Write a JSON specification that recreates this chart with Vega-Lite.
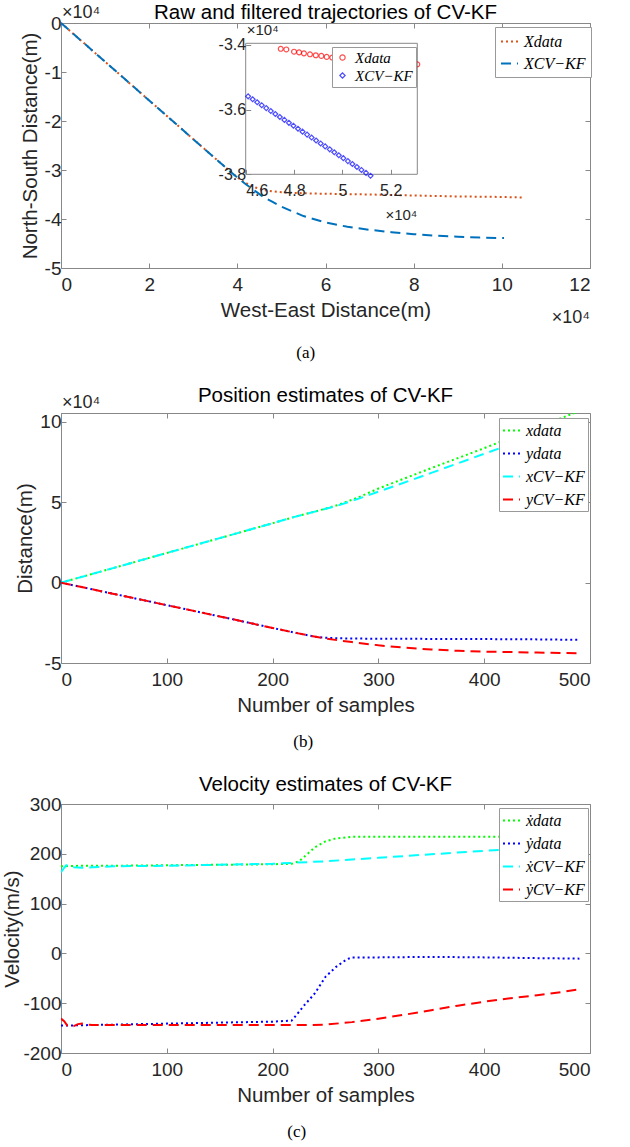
{
 "$schema": "https://vega.github.io/schema/vega-lite/v6.json",
 "padding": {"left": 2, "top": 2, "right": 5, "bottom": 2},
 "config": {
  "font": "Liberation Sans",
  "view": {"stroke": "#888", "strokeWidth": 1},
  "axis": {"grid": false, "domain": false, "labelFont": "Liberation Sans", "labelFontSize": 19, "labelColor": "#262626", "titleFont": "Liberation Sans", "titleFontSize": 20.5, "titleFontWeight": "normal", "titleColor": "#262626", "tickColor": "#888", "tickSize": -5, "titlePadding": 4},
  "axisX": {"labelPadding": 12, "titlePadding": 6},
  "axisY": {"labelPadding": 5},
  "title": {"font": "Liberation Sans", "fontSize": 20.5, "fontWeight": "normal", "color": "#000", "offset": -12},
  "legend": {"labelFont": "Liberation Serif", "labelFontStyle": "italic", "labelFontSize": 16, "labelColor": "#000", "strokeColor": "#999", "fillColor": "white", "zindex": 1, "labelOffset": 5}
 },
 "datasets": {
  "traj": [
   {"s": "Xdata", "x": 0, "y": 0}, {"s": "Xdata", "x": 5000, "y": -3950}, {"s": "Xdata", "x": 10000, "y": -7900}, {"s": "Xdata", "x": 15000, "y": -11850}, {"s": "Xdata", "x": 20000, "y": -15800}, {"s": "Xdata", "x": 25000, "y": -19750}, {"s": "Xdata", "x": 30000, "y": -23700}, {"s": "Xdata", "x": 35000, "y": -27650}, {"s": "Xdata", "x": 38000, "y": -30000}, {"s": "Xdata", "x": 40000, "y": -31500}, {"s": "Xdata", "x": 42000, "y": -32700}, {"s": "Xdata", "x": 44000, "y": -33550}, {"s": "Xdata", "x": 46000, "y": -34100}, {"s": "Xdata", "x": 48000, "y": -34350}, {"s": "Xdata", "x": 50000, "y": -34550}, {"s": "Xdata", "x": 55000, "y": -34750}, {"s": "Xdata", "x": 60000, "y": -34850}, {"s": "Xdata", "x": 70000, "y": -35000}, {"s": "Xdata", "x": 80000, "y": -35200}, {"s": "Xdata", "x": 90000, "y": -35400}, {"s": "Xdata", "x": 100000, "y": -35500}, {"s": "Xdata", "x": 104500, "y": -35600},
   {"s": "XCV−KF", "x": 0, "y": 0}, {"s": "XCV−KF", "x": 5000, "y": -3950}, {"s": "XCV−KF", "x": 10000, "y": -7900}, {"s": "XCV−KF", "x": 15000, "y": -11850}, {"s": "XCV−KF", "x": 20000, "y": -15800}, {"s": "XCV−KF", "x": 25000, "y": -19750}, {"s": "XCV−KF", "x": 30000, "y": -23700}, {"s": "XCV−KF", "x": 35000, "y": -27650}, {"s": "XCV−KF", "x": 38000, "y": -30000}, {"s": "XCV−KF", "x": 40000, "y": -31550}, {"s": "XCV−KF", "x": 42000, "y": -32950}, {"s": "XCV−KF", "x": 44000, "y": -34250}, {"s": "XCV−KF", "x": 46000, "y": -35560}, {"s": "XCV−KF", "x": 48000, "y": -36510}, {"s": "XCV−KF", "x": 50000, "y": -37480}, {"s": "XCV−KF", "x": 55000, "y": -39400}, {"s": "XCV−KF", "x": 60000, "y": -40700}, {"s": "XCV−KF", "x": 65000, "y": -41600}, {"s": "XCV−KF", "x": 70000, "y": -42200}, {"s": "XCV−KF", "x": 75000, "y": -42700}, {"s": "XCV−KF", "x": 80000, "y": -43100}, {"s": "XCV−KF", "x": 85000, "y": -43400}, {"s": "XCV−KF", "x": 90000, "y": -43600}, {"s": "XCV−KF", "x": 95000, "y": -43800}, {"s": "XCV−KF", "x": 100500, "y": -43900}
  ],
  "ins": [
   {"s": "Xdata", "x": 47450, "y": -34120}, {"s": "Xdata", "x": 47680, "y": -34140}, {"s": "Xdata", "x": 48000, "y": -34210}, {"s": "Xdata", "x": 48210, "y": -34230}, {"s": "Xdata", "x": 48410, "y": -34260}, {"s": "Xdata", "x": 48660, "y": -34290}, {"s": "Xdata", "x": 48900, "y": -34320}, {"s": "Xdata", "x": 49130, "y": -34340}, {"s": "Xdata", "x": 49350, "y": -34370}, {"s": "Xdata", "x": 49580, "y": -34390}, {"s": "Xdata", "x": 49820, "y": -34400}, {"s": "Xdata", "x": 50050, "y": -34420}, {"s": "Xdata", "x": 50290, "y": -34430}, {"s": "Xdata", "x": 50530, "y": -34450}, {"s": "Xdata", "x": 50760, "y": -34460}, {"s": "Xdata", "x": 51000, "y": -34480}, {"s": "Xdata", "x": 51240, "y": -34490}, {"s": "Xdata", "x": 51470, "y": -34510}, {"s": "Xdata", "x": 51710, "y": -34520}, {"s": "Xdata", "x": 51950, "y": -34540}, {"s": "Xdata", "x": 52180, "y": -34550}, {"s": "Xdata", "x": 52420, "y": -34560}, {"s": "Xdata", "x": 52660, "y": -34580}, {"s": "Xdata", "x": 52890, "y": -34590}, {"s": "Xdata", "x": 53100, "y": -34600},
   {"s": "XCV−KF", "x": 46100, "y": -35590}, {"s": "XCV−KF", "x": 46288, "y": -35681}, {"s": "XCV−KF", "x": 46475, "y": -35772}, {"s": "XCV−KF", "x": 46663, "y": -35863}, {"s": "XCV−KF", "x": 46850, "y": -35954}, {"s": "XCV−KF", "x": 47038, "y": -36045}, {"s": "XCV−KF", "x": 47226, "y": -36136}, {"s": "XCV−KF", "x": 47413, "y": -36227}, {"s": "XCV−KF", "x": 47601, "y": -36318}, {"s": "XCV−KF", "x": 47788, "y": -36409}, {"s": "XCV−KF", "x": 47976, "y": -36500}, {"s": "XCV−KF", "x": 48164, "y": -36591}, {"s": "XCV−KF", "x": 48351, "y": -36682}, {"s": "XCV−KF", "x": 48539, "y": -36773}, {"s": "XCV−KF", "x": 48726, "y": -36864}, {"s": "XCV−KF", "x": 48914, "y": -36955}, {"s": "XCV−KF", "x": 49102, "y": -37046}, {"s": "XCV−KF", "x": 49289, "y": -37137}, {"s": "XCV−KF", "x": 49477, "y": -37228}, {"s": "XCV−KF", "x": 49664, "y": -37319}, {"s": "XCV−KF", "x": 49852, "y": -37410}, {"s": "XCV−KF", "x": 50040, "y": -37501}, {"s": "XCV−KF", "x": 50227, "y": -37592}, {"s": "XCV−KF", "x": 50415, "y": -37683}, {"s": "XCV−KF", "x": 50602, "y": -37774}, {"s": "XCV−KF", "x": 50790, "y": -37865}, {"s": "XCV−KF", "x": 50978, "y": -37956}, {"s": "XCV−KF", "x": 51165, "y": -38047}
  ],
  "pos": [
   {"s": "xdata", "k": 0, "v": 0}, {"s": "xdata", "k": 50, "v": 9200}, {"s": "xdata", "k": 100, "v": 18500}, {"s": "xdata", "k": 150, "v": 27700}, {"s": "xdata", "k": 200, "v": 37000}, {"s": "xdata", "k": 220, "v": 40800}, {"s": "xdata", "k": 240, "v": 44200}, {"s": "xdata", "k": 260, "v": 48000}, {"s": "xdata", "k": 280, "v": 52800}, {"s": "xdata", "k": 300, "v": 58600}, {"s": "xdata", "k": 350, "v": 71300}, {"s": "xdata", "k": 400, "v": 83700}, {"s": "xdata", "k": 450, "v": 96700}, {"s": "xdata", "k": 490, "v": 106800},
   {"s": "ydata", "k": 0, "v": 0}, {"s": "ydata", "k": 50, "v": -7000}, {"s": "ydata", "k": 100, "v": -14000}, {"s": "ydata", "k": 150, "v": -21000}, {"s": "ydata", "k": 200, "v": -28200}, {"s": "ydata", "k": 220, "v": -31000}, {"s": "ydata", "k": 240, "v": -33600}, {"s": "ydata", "k": 250, "v": -34300}, {"s": "ydata", "k": 260, "v": -34600}, {"s": "ydata", "k": 280, "v": -34800}, {"s": "ydata", "k": 300, "v": -34900}, {"s": "ydata", "k": 350, "v": -35000}, {"s": "ydata", "k": 400, "v": -35100}, {"s": "ydata", "k": 450, "v": -35300}, {"s": "ydata", "k": 490, "v": -35600},
   {"s": "xCV−KF", "k": 0, "v": 0}, {"s": "xCV−KF", "k": 50, "v": 9200}, {"s": "xCV−KF", "k": 100, "v": 18500}, {"s": "xCV−KF", "k": 150, "v": 27700}, {"s": "xCV−KF", "k": 200, "v": 37000}, {"s": "xCV−KF", "k": 220, "v": 40800}, {"s": "xCV−KF", "k": 240, "v": 44200}, {"s": "xCV−KF", "k": 260, "v": 47600}, {"s": "xCV−KF", "k": 280, "v": 52000}, {"s": "xCV−KF", "k": 300, "v": 56600}, {"s": "xCV−KF", "k": 350, "v": 68300}, {"s": "xCV−KF", "k": 400, "v": 80200}, {"s": "xCV−KF", "k": 450, "v": 92000}, {"s": "xCV−KF", "k": 490, "v": 100500},
   {"s": "yCV−KF", "k": 0, "v": 0}, {"s": "yCV−KF", "k": 50, "v": -7000}, {"s": "yCV−KF", "k": 100, "v": -14000}, {"s": "yCV−KF", "k": 150, "v": -21000}, {"s": "yCV−KF", "k": 200, "v": -28200}, {"s": "yCV−KF", "k": 220, "v": -31000}, {"s": "yCV−KF", "k": 235, "v": -33000}, {"s": "yCV−KF", "k": 250, "v": -34800}, {"s": "yCV−KF", "k": 275, "v": -37000}, {"s": "yCV−KF", "k": 300, "v": -39000}, {"s": "yCV−KF", "k": 325, "v": -40500}, {"s": "yCV−KF", "k": 350, "v": -41600}, {"s": "yCV−KF", "k": 375, "v": -42400}, {"s": "yCV−KF", "k": 400, "v": -42900}, {"s": "yCV−KF", "k": 450, "v": -43500}, {"s": "yCV−KF", "k": 490, "v": -43900}
  ],
  "vel": [
   {"s": "ẋdata", "k": 0, "v": 175}, {"s": "ẋdata", "k": 20, "v": 176}, {"s": "ẋdata", "k": 50, "v": 176}, {"s": "ẋdata", "k": 100, "v": 177}, {"s": "ẋdata", "k": 150, "v": 178}, {"s": "ẋdata", "k": 200, "v": 179}, {"s": "ẋdata", "k": 218, "v": 180}, {"s": "ẋdata", "k": 225, "v": 185}, {"s": "ẋdata", "k": 232, "v": 198}, {"s": "ẋdata", "k": 240, "v": 213}, {"s": "ẋdata", "k": 250, "v": 225}, {"s": "ẋdata", "k": 260, "v": 231}, {"s": "ẋdata", "k": 275, "v": 234}, {"s": "ẋdata", "k": 300, "v": 234}, {"s": "ẋdata", "k": 350, "v": 234}, {"s": "ẋdata", "k": 400, "v": 234}, {"s": "ẋdata", "k": 450, "v": 234}, {"s": "ẋdata", "k": 490, "v": 234},
   {"s": "ẏdata", "k": 0, "v": -145}, {"s": "ẏdata", "k": 50, "v": -143}, {"s": "ẏdata", "k": 100, "v": -141}, {"s": "ẏdata", "k": 150, "v": -139}, {"s": "ẏdata", "k": 200, "v": -137}, {"s": "ẏdata", "k": 218, "v": -135}, {"s": "ẏdata", "k": 222, "v": -125}, {"s": "ẏdata", "k": 230, "v": -104}, {"s": "ẏdata", "k": 240, "v": -80}, {"s": "ẏdata", "k": 250, "v": -47}, {"s": "ẏdata", "k": 260, "v": -27}, {"s": "ẏdata", "k": 270, "v": -12}, {"s": "ẏdata", "k": 275, "v": -8}, {"s": "ẏdata", "k": 300, "v": -8}, {"s": "ẏdata", "k": 350, "v": -7}, {"s": "ẏdata", "k": 400, "v": -8}, {"s": "ẏdata", "k": 450, "v": -9.5}, {"s": "ẏdata", "k": 490, "v": -10.5},
   {"s": "ẋCV−KF", "k": 0, "v": 163}, {"s": "ẋCV−KF", "k": 3, "v": 172}, {"s": "ẋCV−KF", "k": 5, "v": 177}, {"s": "ẋCV−KF", "k": 8, "v": 175}, {"s": "ẋCV−KF", "k": 12, "v": 173}, {"s": "ẋCV−KF", "k": 20, "v": 172}, {"s": "ẋCV−KF", "k": 30, "v": 173}, {"s": "ẋCV−KF", "k": 50, "v": 175}, {"s": "ẋCV−KF", "k": 100, "v": 176}, {"s": "ẋCV−KF", "k": 150, "v": 178}, {"s": "ẋCV−KF", "k": 200, "v": 180}, {"s": "ẋCV−KF", "k": 220, "v": 182}, {"s": "ẋCV−KF", "k": 250, "v": 185}, {"s": "ẋCV−KF", "k": 300, "v": 192}, {"s": "ẋCV−KF", "k": 350, "v": 199}, {"s": "ẋCV−KF", "k": 400, "v": 206}, {"s": "ẋCV−KF", "k": 450, "v": 212}, {"s": "ẋCV−KF", "k": 490, "v": 217},
   {"s": "ẏCV−KF", "k": 0, "v": -131}, {"s": "ẏCV−KF", "k": 3, "v": -136}, {"s": "ẏCV−KF", "k": 6, "v": -145}, {"s": "ẏCV−KF", "k": 9, "v": -148}, {"s": "ẏCV−KF", "k": 12, "v": -146}, {"s": "ẏCV−KF", "k": 16, "v": -142}, {"s": "ẏCV−KF", "k": 20, "v": -141}, {"s": "ẏCV−KF", "k": 25, "v": -143}, {"s": "ẏCV−KF", "k": 30, "v": -144}, {"s": "ẏCV−KF", "k": 50, "v": -144}, {"s": "ẏCV−KF", "k": 100, "v": -144}, {"s": "ẏCV−KF", "k": 150, "v": -144}, {"s": "ẏCV−KF", "k": 200, "v": -144}, {"s": "ẏCV−KF", "k": 230, "v": -144}, {"s": "ẏCV−KF", "k": 250, "v": -143}, {"s": "ẏCV−KF", "k": 275, "v": -138}, {"s": "ẏCV−KF", "k": 300, "v": -131}, {"s": "ẏCV−KF", "k": 325, "v": -123}, {"s": "ẏCV−KF", "k": 350, "v": -114}, {"s": "ẏCV−KF", "k": 375, "v": -105}, {"s": "ẏCV−KF", "k": 400, "v": -97}, {"s": "ẏCV−KF", "k": 425, "v": -90}, {"s": "ẏCV−KF", "k": 450, "v": -84}, {"s": "ẏCV−KF", "k": 475, "v": -77}, {"s": "ẏCV−KF", "k": 490, "v": -72}
  ],
  "note": [{"t": "×10⁴"}]
 },
 "spacing": 24,
 "resolve": {"scale": {"color": "independent", "strokeDash": "independent", "shape": "independent"}, "legend": {"color": "independent", "strokeDash": "independent", "shape": "independent"}},
 "vconcat": [
  {
   "title": {"text": "(a)", "orient": "bottom", "anchor": "middle", "font": "Liberation Serif", "fontSize": 17, "color": "#000", "offset": 17},
   "vconcat": [
    {
     "width": 529, "height": 245,
     "title": {"text": "Raw and filtered trajectories of CV-KF", "frame": "group", "offset": -19},
     "layer": [
      {"layer": [
       {"data": {"name": "traj"}, "mark": {"type": "line", "strokeWidth": 2},
        "encoding": {
         "x": {"field": "x", "type": "quantitative", "scale": {"domain": [0, 120000], "nice": false}, "axis": {"values": [0, 20000, 40000, 60000, 80000, 100000, 120000], "labelExpr": "'' + datum.value / 10000", "title": "West-East Distance(m)"}},
         "y": {"field": "y", "type": "quantitative", "scale": {"domain": [-50000, 0], "nice": false}, "axis": {"values": [-50000, -40000, -30000, -20000, -10000, 0], "labelExpr": "'' + datum.value / 10000", "title": "North-South Distance(m)"}},
         "color": {"field": "s", "type": "nominal", "scale": {"domain": ["Xdata", "XCV−KF"], "range": ["#D95319", "#0072BD"]}, "legend": {"title": null, "orient": "none", "legendX": 434, "legendY": 4, "padding": 5, "rowPadding": 4, "symbolType": "stroke", "symbolSize": 289, "symbolStrokeWidth": 2}},
         "strokeDash": {"field": "s", "type": "nominal", "scale": {"domain": ["Xdata", "XCV−KF"], "range": [[2, 3], [10, 6]]}}
        }},
       {"data": {"name": "note"}, "mark": {"type": "text", "align": "left", "baseline": "alphabetic", "dx": 1, "dy": -5, "fontSize": 18, "color": "#262626"},
        "encoding": {
         "x": {"datum": 0, "type": "quantitative", "axis": {"orient": "top", "labels": false, "title": null, "values": [0, 20000, 40000, 60000, 80000, 100000, 120000]}},
         "y": {"datum": 0, "type": "quantitative", "axis": {"orient": "right", "labels": false, "title": null, "values": [-50000, -40000, -30000, -20000, -10000, 0]}},
         "text": {"field": "t"}}},
       {"data": {"name": "note"}, "mark": {"type": "text", "align": "right", "baseline": "alphabetic", "dy": 55, "fontSize": 18, "color": "#262626"},
        "encoding": {"x": {"datum": 120000, "type": "quantitative", "axis": null}, "y": {"datum": -50000, "type": "quantitative", "axis": null}, "text": {"field": "t"}}}
      ],
      "resolve": {"axis": {"x": "independent", "y": "independent"}}},
      {"layer": [
       {"data": {"name": "note"}, "mark": {"type": "rect", "fill": "white", "stroke": "#888", "strokeWidth": 1},
        "encoding": {
         "x": {"datum": 46000, "type": "quantitative", "scale": {"domain": [46000, 53100], "range": [184.7, 356.3], "nice": false, "zero": false}, "axis": {"orient": "bottom", "offset": -93.7, "values": [46000, 48000, 50000, 52000], "labelExpr": "'' + datum.value / 10000", "title": null, "labelFontSize": 16, "labelPadding": 13, "zindex": 1}},
         "x2": {"datum": 53100},
         "y": {"datum": -38000, "type": "quantitative", "scale": {"domain": [-38000, -33950], "range": [151.3, 20.3], "nice": false, "zero": false}, "axis": {"orient": "left", "offset": -184.7, "values": [-38000, -36000, -34000], "labelExpr": "'' + datum.value / 10000", "title": null, "labelFontSize": 16, "zindex": 1}},
         "y2": {"datum": -33950}
        }},
       {"data": {"name": "ins"}, "mark": {"type": "point", "filled": false, "size": 24, "strokeWidth": 1.2},
        "encoding": {
         "x": {"field": "x", "type": "quantitative"},
         "y": {"field": "y", "type": "quantitative"},
         "color": {"field": "s", "type": "nominal", "scale": {"domain": ["Xdata", "XCV−KF"], "range": ["#ff0000", "#0000ff"]}, "legend": {"title": null, "orient": "none", "legendX": 271, "legendY": 24, "padding": 3, "rowPadding": 2, "labelFontSize": 15, "symbolSize": 28, "symbolStrokeWidth": 1.2}},
         "shape": {"field": "s", "type": "nominal", "scale": {"domain": ["Xdata", "XCV−KF"], "range": ["circle", "diamond"]}}
        }},
       {"data": {"name": "note"}, "mark": {"type": "text", "align": "left", "baseline": "alphabetic", "dx": 1, "dy": -8, "fontSize": 15, "color": "#262626"},
        "encoding": {"x": {"datum": 46000, "type": "quantitative"}, "y": {"datum": -33950, "type": "quantitative"}, "text": {"field": "t"}}},
       {"data": {"name": "note"}, "mark": {"type": "text", "align": "right", "baseline": "alphabetic", "dy": 46, "fontSize": 15, "color": "#262626"},
        "encoding": {"x": {"datum": 53100, "type": "quantitative"}, "y": {"datum": -38000, "type": "quantitative"}, "text": {"field": "t"}}}
      ]}
     ],
     "resolve": {"scale": {"x": "independent", "y": "independent", "color": "independent", "strokeDash": "independent", "shape": "independent"}}
    }
   ]
  },
  {
   "title": {"text": "(b)", "orient": "bottom", "anchor": "middle", "font": "Liberation Serif", "fontSize": 17, "color": "#000", "offset": 18},
   "vconcat": [
    {
     "width": 529, "height": 250,
     "title": {"text": "Position estimates of CV-KF", "frame": "group"},
     "layer": [
      {"data": {"name": "pos"}, "mark": {"type": "line", "strokeWidth": 2, "clip": true},
       "encoding": {
        "x": {"field": "k", "type": "quantitative", "scale": {"domain": [0, 500], "nice": false}, "axis": {"values": [0, 100, 200, 300, 400, 500], "title": "Number of samples"}},
        "y": {"field": "v", "type": "quantitative", "scale": {"domain": [-50000, 105600], "nice": false}, "axis": {"values": [-50000, 0, 50000, 100000], "labelExpr": "'' + datum.value / 10000", "title": "Distance(m)"}},
        "color": {"field": "s", "type": "nominal", "scale": {"domain": ["xdata", "ydata", "xCV−KF", "yCV−KF"], "range": ["#00ff00", "#0000ff", "#00ffff", "#ff0000"]}, "legend": {"title": null, "orient": "none", "legendX": 438, "legendY": 5, "padding": 3, "rowPadding": 5, "symbolType": "stroke", "symbolSize": 289, "symbolStrokeWidth": 2}},
        "strokeDash": {"field": "s", "type": "nominal", "scale": {"domain": ["xdata", "ydata", "xCV−KF", "yCV−KF"], "range": [[2, 3], [2, 3], [10, 6], [10, 6]]}}
       }},
      {"data": {"name": "note"}, "mark": {"type": "text", "align": "left", "baseline": "alphabetic", "dx": 1, "dy": -5, "fontSize": 18, "color": "#262626"},
       "encoding": {
        "x": {"datum": 0, "type": "quantitative", "axis": {"orient": "top", "labels": false, "title": null, "values": [0, 100, 200, 300, 400, 500]}},
        "y": {"datum": 105600, "type": "quantitative", "axis": {"orient": "right", "labels": false, "title": null, "values": [-50000, 0, 50000, 100000]}},
        "text": {"field": "t"}}}
     ],
     "resolve": {"axis": {"x": "independent", "y": "independent"}}
    }
   ]
  },
  {
   "title": {"text": "(c)", "orient": "bottom", "anchor": "middle", "font": "Liberation Serif", "fontSize": 17, "color": "#000", "offset": 18},
   "vconcat": [
    {
     "width": 529, "height": 249,
     "title": {"text": "Velocity estimates of CV-KF", "frame": "group", "offset": 0},
     "layer": [
      {"data": {"name": "vel"},
       "mark": {"type": "line", "strokeWidth": 2, "clip": true},
       "encoding": {
        "x": {"field": "k", "type": "quantitative", "scale": {"domain": [0, 500], "nice": false}, "axis": {"values": [0, 100, 200, 300, 400, 500], "title": "Number of samples"}},
        "y": {"field": "v", "type": "quantitative", "scale": {"domain": [-200, 300], "nice": false}, "axis": {"values": [-200, -100, 0, 100, 200, 300], "labelExpr": "'' + datum.value", "title": "Velocity(m/s)", "titlePadding": 0}},
        "color": {"field": "s", "type": "nominal", "scale": {"domain": ["ẋdata", "ẏdata", "ẋCV−KF", "ẏCV−KF"], "range": ["#00ff00", "#0000ff", "#00ffff", "#ff0000"]}, "legend": {"title": null, "orient": "none", "legendX": 438, "legendY": 4, "padding": 3, "rowPadding": 5, "symbolType": "stroke", "symbolSize": 289, "symbolStrokeWidth": 2}},
        "strokeDash": {"field": "s", "type": "nominal", "scale": {"domain": ["ẋdata", "ẏdata", "ẋCV−KF", "ẏCV−KF"], "range": [[2, 3], [2, 3], [10, 6], [10, 6]]}}
       }},
      {"data": {"name": "note"}, "mark": {"type": "text", "text": ""},
       "encoding": {
        "x": {"datum": 0, "type": "quantitative", "axis": {"orient": "top", "labels": false, "title": null, "values": [0, 100, 200, 300, 400, 500]}},
        "y": {"datum": -200, "type": "quantitative", "axis": {"orient": "right", "labels": false, "title": null, "values": [-200, -100, 0, 100, 200, 300]}}}}
     ],
     "resolve": {"axis": {"x": "independent", "y": "independent"}}
    }
   ]
  }
 ]
}
